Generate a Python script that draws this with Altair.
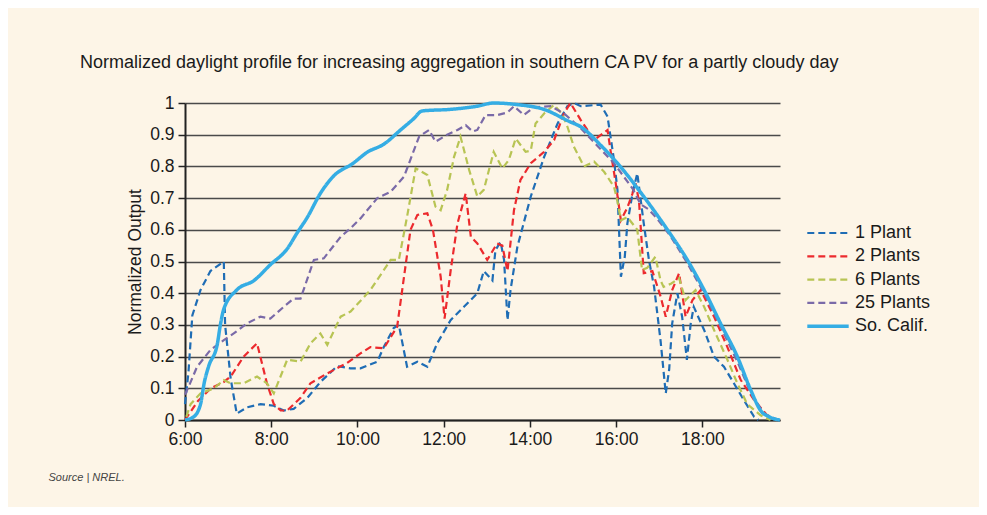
import altair as alt
import pandas as pd

TITLE = "Normalized daylight profile for increasing aggregation in southern CA PV for a partly cloudy day"
SOURCE = "Source | NREL."
Y_TITLE = "Normalized Output"

SERIES = ["1 Plant", "2 Plants", "6 Plants", "25 Plants", "So. Calif."]
COLORS = ["#1f6db5", "#ec2a2e", "#b8c454", "#7a6aa8", "#35ade4"]
DASHES = [[7, 4], [7, 4], [7, 4], [7, 4], [1, 0]]

X_TICKS = [6, 8, 10, 12, 14, 16, 18]
Y_TICKS = [0, 0.1, 0.2, 0.3, 0.4, 0.5, 0.6, 0.7, 0.8, 0.9, 1]

# (hour of day, normalized output)
ONE_PLANT = [
    (6.0, 0.05), (6.08, 0.15), (6.17, 0.33), (6.36, 0.41), (6.59, 0.47), (6.9, 0.5),
    (6.93, 0.3), (7.06, 0.13), (7.2, 0.02), (7.44, 0.04), (7.75, 0.05), (8.06, 0.045),
    (8.29, 0.03), (8.52, 0.035), (8.84, 0.07), (9.14, 0.12), (9.53, 0.17), (9.84, 0.163),
    (10.07, 0.163), (10.46, 0.184), (10.61, 0.23), (10.84, 0.29), (10.96, 0.30),
    (11.15, 0.168), (11.39, 0.184), (11.62, 0.168), (11.85, 0.242), (12.16, 0.315),
    (12.47, 0.357), (12.78, 0.40), (12.93, 0.47), (13.13, 0.44), (13.2, 0.536),
    (13.32, 0.562), (13.4, 0.505), (13.48, 0.315), (13.55, 0.41), (13.71, 0.547),
    (14.02, 0.705), (14.33, 0.83), (14.64, 0.935), (14.87, 0.99), (15.02, 1.0),
    (15.18, 0.99), (15.64, 0.995), (15.8, 0.957), (15.95, 0.82), (16.03, 0.726),
    (16.11, 0.452), (16.2, 0.515), (16.26, 0.62), (16.38, 0.715), (16.49, 0.778),
    (16.64, 0.62), (16.76, 0.505), (16.88, 0.42), (17.03, 0.25), (17.15, 0.084),
    (17.23, 0.16), (17.3, 0.305), (17.42, 0.40), (17.53, 0.326), (17.64, 0.19),
    (17.73, 0.305), (17.8, 0.357), (18.04, 0.284), (18.27, 0.2), (18.5, 0.168),
    (18.73, 0.116), (18.96, 0.063), (19.2, 0.01), (19.3, 0.0),
]
TWO_PLANTS = [
    (6.0, 0.0), (6.3, 0.06), (6.6, 0.1), (6.9, 0.12), (7.06, 0.137), (7.36, 0.2),
    (7.67, 0.242), (7.9, 0.116), (8.06, 0.05), (8.22, 0.03), (8.37, 0.03), (8.68, 0.07),
    (8.91, 0.116), (9.3, 0.147), (9.76, 0.18), (10.07, 0.21), (10.3, 0.23), (10.61, 0.226),
    (10.92, 0.294), (11.08, 0.452), (11.23, 0.6), (11.39, 0.647), (11.62, 0.652),
    (11.75, 0.6), (11.93, 0.452), (12.02, 0.32), (12.16, 0.47), (12.32, 0.62),
    (12.51, 0.715), (12.63, 0.578), (12.78, 0.557), (13.01, 0.505), (13.24, 0.557),
    (13.36, 0.55), (13.48, 0.47), (13.63, 0.662), (13.78, 0.757), (14.02, 0.81),
    (14.33, 0.846), (14.56, 0.883), (14.79, 0.967), (14.94, 1.0), (15.18, 0.946),
    (15.49, 0.883), (15.8, 0.915), (15.87, 0.85), (15.99, 0.747), (16.11, 0.63),
    (16.26, 0.67), (16.38, 0.715), (16.45, 0.747), (16.53, 0.69), (16.64, 0.463),
    (16.84, 0.47), (17.03, 0.39), (17.15, 0.326), (17.3, 0.41), (17.46, 0.463),
    (17.61, 0.326), (17.77, 0.378), (17.96, 0.41), (18.27, 0.326), (18.58, 0.23),
    (18.89, 0.126), (19.2, 0.063), (19.5, 0.015), (19.74, 0.0),
]
SIX_PLANTS = [
    (6.03, 0.01), (6.13, 0.05), (6.36, 0.084), (6.67, 0.1), (6.9, 0.126), (7.06, 0.116),
    (7.36, 0.116), (7.67, 0.137), (7.9, 0.116), (8.06, 0.084), (8.37, 0.19), (8.68, 0.184),
    (8.91, 0.242), (9.14, 0.273), (9.3, 0.237), (9.61, 0.326), (9.84, 0.342), (10.3, 0.41),
    (10.77, 0.505), (10.96, 0.505), (11.15, 0.641), (11.35, 0.794), (11.62, 0.773),
    (11.81, 0.673), (11.93, 0.662), (12.08, 0.726), (12.24, 0.83), (12.39, 0.894),
    (12.59, 0.789), (12.78, 0.705), (12.93, 0.726), (13.16, 0.846), (13.36, 0.794),
    (13.51, 0.82), (13.67, 0.888), (13.9, 0.846), (14.02, 0.85), (14.13, 0.935),
    (14.33, 0.967), (14.56, 0.994), (14.75, 0.965), (14.87, 0.925), (15.02, 0.862),
    (15.25, 0.8), (15.49, 0.815), (15.72, 0.783), (15.95, 0.736), (16.03, 0.69),
    (16.11, 0.63), (16.26, 0.64), (16.49, 0.6), (16.6, 0.473), (16.72, 0.48),
    (16.91, 0.515), (17.03, 0.44), (17.1, 0.42), (17.27, 0.43), (17.46, 0.447),
    (17.61, 0.378), (17.84, 0.41), (18.04, 0.357), (18.27, 0.284), (18.58, 0.19),
    (18.81, 0.116), (19.04, 0.05), (19.35, 0.015), (19.58, 0.0),
]
TWENTY_FIVE_PLANTS = [
    (6.0, 0.08), (6.1, 0.11), (6.28, 0.168), (6.59, 0.221), (6.9, 0.252), (7.13, 0.273),
    (7.44, 0.305), (7.75, 0.326), (7.98, 0.32), (8.29, 0.357), (8.52, 0.383), (8.68, 0.383),
    (8.99, 0.505), (9.22, 0.51), (9.61, 0.578), (9.84, 0.605), (10.07, 0.636), (10.46, 0.7),
    (10.77, 0.72), (11.08, 0.768), (11.28, 0.84), (11.43, 0.894), (11.66, 0.915),
    (11.81, 0.878), (12.08, 0.9), (12.32, 0.915), (12.51, 0.93), (12.67, 0.91),
    (12.78, 0.915), (12.97, 0.962), (13.24, 0.962), (13.48, 0.97), (13.63, 0.99),
    (13.86, 0.962), (14.1, 0.987), (14.48, 0.99), (14.79, 0.967), (15.18, 0.92),
    (15.95, 0.81), (16.38, 0.73), (16.57, 0.68), (16.75, 0.665), (16.95, 0.635),
    (17.26, 0.58), (17.65, 0.495), (18.04, 0.4), (18.42, 0.295), (18.81, 0.185),
    (19.12, 0.085), (19.43, 0.02), (19.74, 0.0),
]
SO_CALIF = [
    (6.0, 0.0), (6.2, 0.01), (6.36, 0.05), (6.45, 0.12), (6.55, 0.17), (6.75, 0.24),
    (6.82, 0.3), (6.9, 0.35), (7.2, 0.41), (7.6, 0.44), (7.98, 0.49), (8.37, 0.54),
    (8.6, 0.59), (8.84, 0.64), (9.14, 0.715), (9.45, 0.77), (9.9, 0.81), (10.23, 0.845),
    (10.61, 0.87), (11.0, 0.915), (11.3, 0.95), (11.5, 0.975), (12.16, 0.98),
    (12.78, 0.99), (13.16, 1.0), (13.7, 0.995), (14.32, 0.98), (14.94, 0.94),
    (15.18, 0.925), (15.64, 0.867), (16.03, 0.81), (16.72, 0.69), (17.19, 0.60),
    (17.65, 0.505), (18.04, 0.41), (18.42, 0.305), (18.81, 0.2), (19.12, 0.095),
    (19.35, 0.03), (19.55, 0.01), (19.8, 0.0),
]

rows = []
for name, pts in zip(SERIES, [ONE_PLANT, TWO_PLANTS, SIX_PLANTS, TWENTY_FIVE_PLANTS, SO_CALIF]):
    for i, (t, v) in enumerate(pts):
        rows.append({"series": name, "hour": t, "output": v, "idx": i})
df = pd.DataFrame(rows)

FONT = "Liberation Sans, Arial, sans-serif"
TEXT = "#1a1a1a"

legend = alt.Legend(
    title=None,
    orient="none",
    legendX=634,
    legendY=121,
    symbolType="M-2.3,0L2.3,0",
    symbolSize=324,
    symbolStrokeWidth=alt.ExprRef("datum.value === 'So. Calif.' ? 3.5 : 2.2"),
    labelFont=FONT,
    labelFontSize=18,
    labelColor=TEXT,
    labelOffset=18,
    rowPadding=5.3,
)

base = alt.Chart(df).encode(
    x=alt.X(
        "hour:Q",
        scale=alt.Scale(domain=[6, 19.8], nice=False, zero=False),
        axis=alt.Axis(
            values=X_TICKS,
            labelExpr="floor(datum.value) + ':00'",
            grid=False,
            title=SOURCE,
            titleX=-137,
            titleY=51,
            titleAlign="left",
            titleAnchor="start",
            titleFont="Liberation Sans Narrow, Liberation Sans, Arial, sans-serif",
            titleFontStyle="italic",
            titleFontWeight="normal",
            titleFontSize=11,
            titleColor="#444444",
            labelFont=FONT,
            labelFontSize=17.5,
            labelColor=TEXT,
            labelPadding=3,
            tickSize=7,
            tickColor="#222222",
            tickWidth=1.5,
            domainColor="#222222",
            domainWidth=2,
            labelFlush=False,
        ),
    ),
    y=alt.Y(
        "output:Q",
        scale=alt.Scale(domain=[0, 1], nice=False),
        axis=alt.Axis(
            values=Y_TICKS,
            format="~g",
            title=Y_TITLE,
            titleFont=FONT,
            titleFontSize=17.5,
            titleFontWeight="normal",
            titleColor=TEXT,
            titlePadding=5,
            labelFont=FONT,
            labelFontSize=17.5,
            labelColor=TEXT,
            labelPadding=4,
            tickSize=7,
            tickColor="#222222",
            tickWidth=1.5,
            domainColor="#222222",
            domainWidth=2,
            grid=True,
            gridColor="#4a4a4a",
            gridWidth=1.5,
        ),
    ),
    color=alt.Color("series:N", scale=alt.Scale(domain=SERIES, range=COLORS), legend=legend),
    strokeDash=alt.StrokeDash("series:N", scale=alt.Scale(domain=SERIES, range=DASHES), legend=legend),
    order="idx:Q",
)

dashed = base.transform_filter(alt.datum.series != "So. Calif.").mark_line(strokeWidth=2.2, clip=False)
calif = base.transform_filter(alt.datum.series == "So. Calif.").mark_line(
    strokeWidth=3.5, interpolate="monotone", clip=False
)

chart = (
    alt.layer(dashed, calif)
    .properties(
        width=595,
        height=317,
        title=alt.TitleParams(
            TITLE,
            anchor="start",
            frame="group",
            dx=-105,
            offset=22,
            font=FONT,
            fontSize=18,
            fontWeight="normal",
            color=TEXT,
        ),
        autosize=alt.AutoSizeParams(type="none"),
        padding={"left": 177, "top": 95, "right": 199, "bottom": 87},
        background="#fdf5e7",
    )
    .configure_view(stroke=None)
)

chart.save("out.html", embed_options={"renderer": "svg", "actions": False})
